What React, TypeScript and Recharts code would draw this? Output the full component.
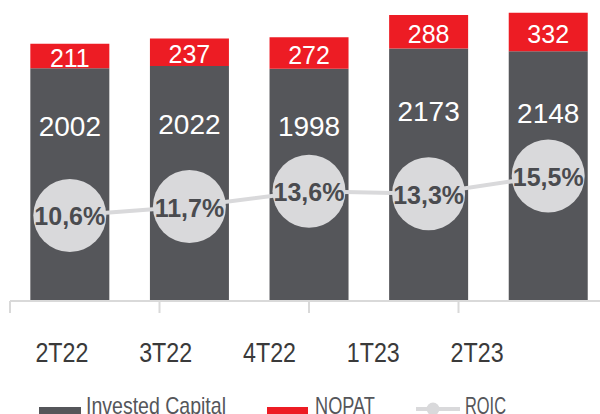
import React from 'react';
import { ComposedChart, Bar, Line, XAxis, YAxis, LabelList, Legend } from 'recharts';

const quarters = ['2T22', '3T22', '4T22', '1T23', '2T23'];
const investedCapital = [2002, 2022, 1998, 2173, 2148];
const nopat = [211, 237, 272, 288, 332];
const roic = [10.6, 11.7, 13.6, 13.3, 15.5];

const data = quarters.map((q, i) => ({ q, ic: investedCapital[i], nopat: nopat[i], roic: roic[i] }));

const DARK = '#55565a';
const RED = '#ed1c24';
const LIGHT = '#d9d9db';
const SANS = "'Liberation Sans', Arial, sans-serif";

const num = (a: any, b: any) => (typeof a === 'number' ? a : b);

const IcLabel = (props: any) => {
  const vb = props.viewBox || {};
  const x = num(props.x, vb.x);
  const y = num(props.y, vb.y);
  const w = num(props.width, vb.width);
  const h = num(props.height, vb.height);
  return (
    <text x={x + w / 2} y={y + h * 0.25} textAnchor="middle" dominantBaseline="central" fill="#ffffff" fontSize={28} fontFamily={SANS}>
      {props.value}
    </text>
  );
};

const NopatLabel = (props: any) => {
  const vb = props.viewBox || {};
  const x = num(props.x, vb.x);
  const y = num(props.y, vb.y);
  const w = num(props.width, vb.width);
  const h = num(props.height, vb.height);
  return (
    <text x={x + w / 2} y={y + h / 2 + 2} textAnchor="middle" dominantBaseline="central" fill="#ffffff" fontSize={25} fontFamily={SANS}>
      {props.value}
    </text>
  );
};

const RoicLabel = (props: any) => {
  const vb = props.viewBox || {};
  const x = num(props.x, vb.x);
  const y = num(props.y, vb.y);
  const v = Number(props.value).toFixed(1).replace('.', ',') + '%';
  return (
    <text x={x} y={y + 1} textAnchor="middle" dominantBaseline="central" fill="#4a4b4f" fontSize={25} fontWeight={700} fontFamily={SANS}>
      {v}
    </text>
  );
};

const RoicDot = (props: any) => {
  const { cx, cy, index } = props;
  return <circle key={`d${index}`} cx={cx} cy={cy} r={36.5} fill={LIGHT} />;
};

const QuarterTick = (props: any) => {
  const { x, y, payload } = props;
  return (
    <text x={x} y={y + 41} textAnchor="middle" fill="#3a3a3a" fontSize={28} fontFamily={SANS} textLength={53} lengthAdjust="spacingAndGlyphs">
      {payload.value}
    </text>
  );
};

const NoTick = () => <g />;

const LegendContent = () => (
  <svg width={600} height={26} style={{ display: 'block', overflow: 'visible' }}>
    <rect x={39} y={19} width={42} height={14} fill={DARK} />
    <text x={86} y={26} fontSize={24} fill="#55565a" fontFamily={SANS} textLength={140} lengthAdjust="spacingAndGlyphs">Invested Capital</text>
    <rect x={267} y={19} width={41} height={14} fill={RED} />
    <text x={315} y={26} fontSize={24} fill="#55565a" fontFamily={SANS} textLength={60} lengthAdjust="spacingAndGlyphs">NOPAT</text>
    <line x1={416} x2={460} y1={21} y2={21} stroke={LIGHT} strokeWidth={4} />
    <circle cx={433} cy={21} r={6.5} fill={LIGHT} />
    <text x={465} y={26} fontSize={24} fill="#55565a" fontFamily={SANS} textLength={41} lengthAdjust="spacingAndGlyphs">ROIC</text>
  </svg>
);

export default function App() {
  return (
    <div style={{ position: 'absolute', left: 0, top: 0, width: 600, height: 414, overflow: 'hidden', background: '#ffffff' }}>
      <ComposedChart width={610} height={414} data={data} margin={{ top: 0, right: 2, bottom: 15, left: 10 }} barCategoryGap="17%">
        <XAxis dataKey="q" hide height={0} />
        <XAxis xAxisId="grid" type="number" domain={[0, 5]} ticks={[0, 1, 2, 3, 4, 5]} tick={NoTick} tickSize={12} height={12} stroke="#d9d9d9" strokeWidth={2} allowDataOverflow />
        <XAxis xAxisId="lbl" dataKey="q" padding={{ left: 0, right: 79 }} axisLine={false} tickLine={false} height={60} interval={0} tick={QuarterTick} />
        <YAxis yAxisId="l" domain={[0, 2590]} hide />
        <YAxis yAxisId="r" domain={[0, 37.3]} hide />
        <Bar yAxisId="l" dataKey="ic" stackId="a" fill={DARK} isAnimationActive={false} name="Invested Capital">
          <LabelList dataKey="ic" content={IcLabel} />
        </Bar>
        <Bar yAxisId="l" dataKey="nopat" stackId="a" fill={RED} isAnimationActive={false} name="NOPAT">
          <LabelList dataKey="nopat" content={NopatLabel} />
        </Bar>
        <Line yAxisId="r" dataKey="roic" stroke={LIGHT} strokeWidth={4} dot={RoicDot} activeDot={false} isAnimationActive={false} name="ROIC">
          <LabelList dataKey="roic" content={RoicLabel} />
        </Line>
        <Legend content={LegendContent} wrapperStyle={{ position: 'absolute', top: 388, left: 0, width: 600, height: 26 }} />
      </ComposedChart>
    </div>
  );
}
